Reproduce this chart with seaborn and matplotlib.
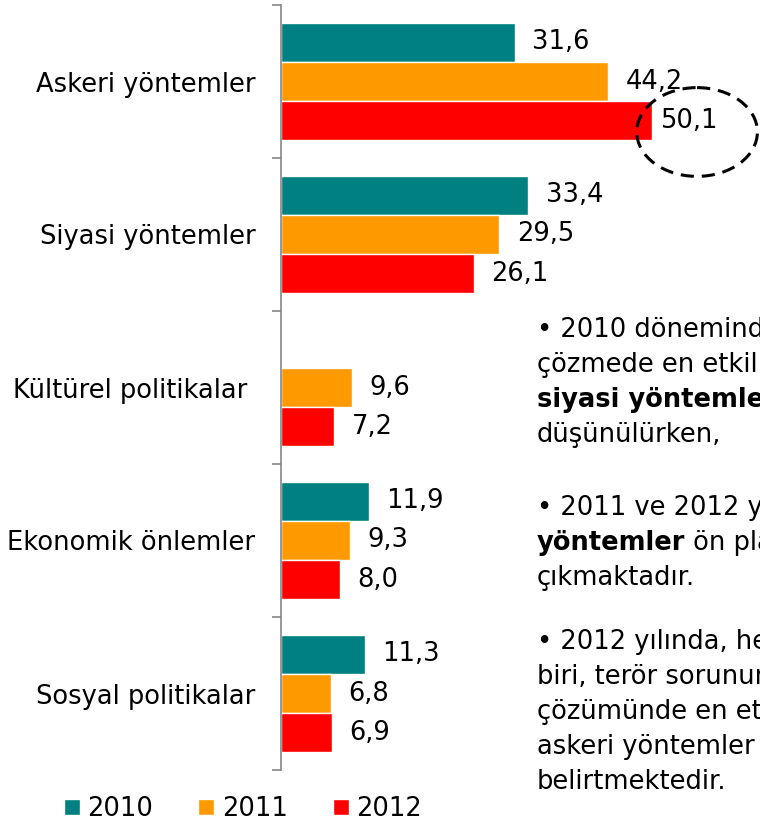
import matplotlib
matplotlib.use("Agg")
import matplotlib.pyplot as plt
from matplotlib.patches import Ellipse
import seaborn as sns
import numpy as np
import pandas as pd

# veriler
kategoriler = ["Askeri yöntemler", "Siyasi yöntemler", "Kültürel politikalar ",
               "Ekonomik önlemler", "Sosyal politikalar"]
yillar = ["2010", "2011", "2012"]
deger_2010 = [31.6, 33.4, np.nan, 11.9, 11.3]
deger_2011 = [44.2, 29.5, 9.6, 9.3, 6.8]
deger_2012 = [50.1, 26.1, 7.2, 8.0, 6.9]
renkler = ["#008080", "#FF9900", "#FF0000"]

df = pd.DataFrame({
    "kategori": kategoriler * 3,
    "yil": [y for y in yillar for _ in kategoriler],
    "deger": deger_2010 + deger_2011 + deger_2012,
})

sns.set_style("white")
plt.rcParams["font.family"] = ["DejaVu Sans"]
plt.rcParams["text.color"] = "black"
FS = 18.5

W, H = 760, 823
fig = plt.figure(figsize=(W / 100, H / 100), dpi=100)
ax = fig.add_axes([281 / W, 1 - 770 / H, (W - 281) / W, (770 - 5) / H])

sns.barplot(data=df, y="kategori", x="deger", hue="yil", palette=renkler,
            orient="h", width=0.765, saturation=1, ax=ax)

ax.set_xlim(0, 64.7)
ax.set_ylim(4.5, -0.5)
ax.set_xlabel("")
ax.set_ylabel("")
ax.set_xticks([])

# grup ayırıcı tikler + kategori etiketleri
ax.set_yticks(np.arange(-0.5, 5, 1.0))
ax.set_yticklabels([])
ax.set_yticks(np.arange(5), minor=True)
ax.set_yticklabels(kategoriler, minor=True, fontsize=FS)
ax.tick_params(axis="y", which="major", length=6.5, width=1.2, color="#868686", left=True)
ax.tick_params(axis="y", which="minor", length=0, pad=18.5, labelcolor="black")

for s in ["top", "right", "bottom"]:
    ax.spines[s].set_visible(False)
ax.spines["left"].set_color("#868686")
ax.spines["left"].set_linewidth(1.2)

# değer etiketleri
for cont in ax.containers:
    for bar in cont:
        w = bar.get_width()
        if np.isnan(w) or w == 0:
            continue
        yc = bar.get_y() + bar.get_height() / 2
        pad = 6 if w > 50 else 12.5
        ax.annotate(f"{w:.1f}".replace(".", ","), (w, yc), xytext=(pad, 0),
                    textcoords="offset points", va="center", ha="left", fontsize=FS)

# 50,1 etrafındaki kesikli elips
ell = Ellipse((56.2, 0.33), 16.3, 0.58, fill=False, edgecolor="black",
              linewidth=2.2, linestyle=(0, (4.3, 2.6)), clip_on=False)
ax.add_patch(ell)

sns.move_legend(ax, "center", bbox_to_anchor=(-0.079, -0.051), ncol=3,
                frameon=False, title=None, fontsize=FS, handlelength=0.62,
                handleheight=0.62, handletextpad=0.3, columnspacing=1.75)

# sağdaki açıklama metni (referansta sağ kenarda kesiliyor)
satirlar = [
    (330, [("• 2010 döneminde terörü", "normal")]),
    (365, [("çözmede en etkili yöntem", "normal")]),
    (400, [("siyasi yöntemler", "bold")]),
    (435, [("düşünülürken,", "normal")]),
    (508, [("• 2011 ve 2012 yıllarında askeri", "normal")]),
    (543, [("yöntemler", "bold"), (" ön plana", "normal")]),
    (578, [("çıkmaktadır.", "normal")]),
    (642, [("• 2012 yılında, her iki kişiden", "normal")]),
    (677, [("biri, terör sorununun", "normal")]),
    (712, [("çözümünde en etkili yolun", "normal")]),
    (747, [("askeri yöntemler olduğunu", "normal")]),
    (782, [("belirtmektedir.", "normal")]),
]
renderer = fig.canvas.get_renderer()
for y, parcalar in satirlar:
    x = 537
    for metin, agirlik in parcalar:
        t = fig.text(x / W, 1 - y / H, metin, fontsize=FS, fontweight=agirlik,
                     va="center", ha="left")
        x = t.get_window_extent(renderer).x1

fig.savefig("out.png", dpi=100)
